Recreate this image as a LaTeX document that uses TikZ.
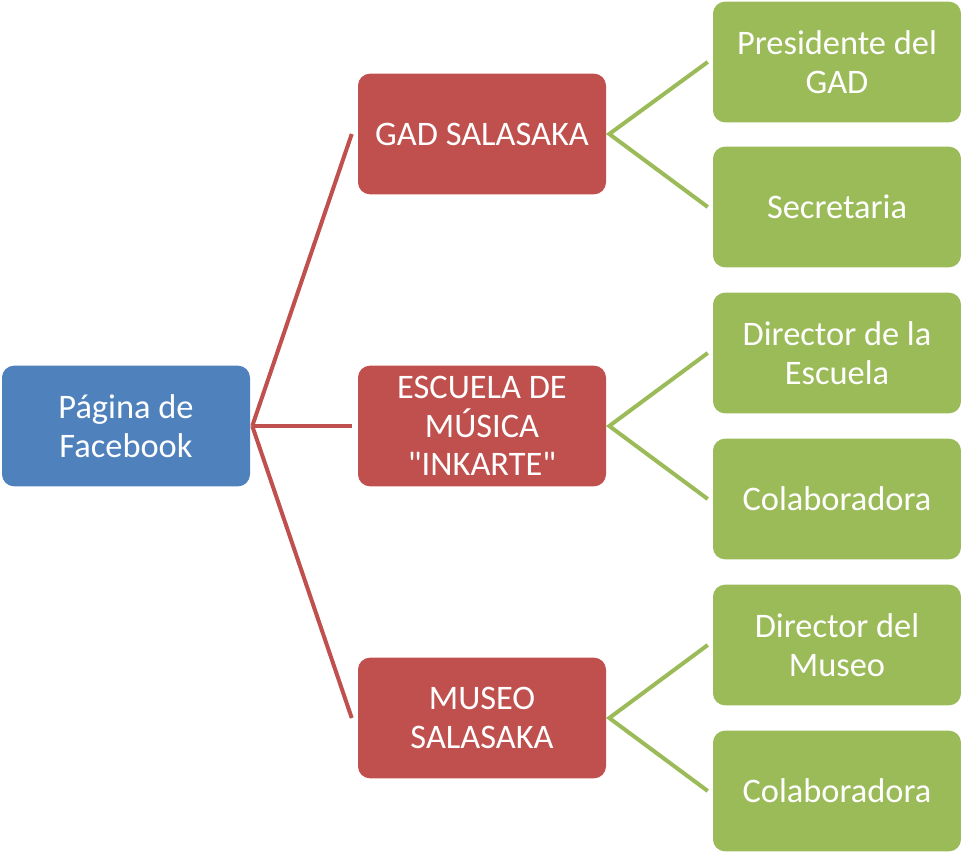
\documentclass[tikz,border=0pt]{standalone}
\usepackage{fontspec}
\setmainfont{Carlito}[Ligatures=TeXOff]
\usepackage{xcolor}
\usetikzlibrary{calc, positioning}
\definecolor{rootblue}{HTML}{4F81BD}
\definecolor{midred}{HTML}{C0504D}
\definecolor{leafgreen}{HTML}{9BBB59}
\begin{document}
\begin{tikzpicture}[x=0.75pt,y=-0.75pt,
  box/.style={rounded corners=9pt,minimum width=186pt,minimum height=90.5pt,
    inner sep=2pt,align=center,text=white,font=\fontsize{25.8}{29}\selectfont},
  rootbox/.style={box,fill=rootblue},
  midbox/.style={box,fill=midred},
  leafbox/.style={box,fill=leafgreen},
  redline/.style={midred,line width=3pt},
  greenline/.style={leafgreen,line width=3pt}]
\useasboundingbox (0,0) rectangle (961,853);
\node[rootbox] (pagina) at (126,426) {Página de\\Facebook};
\node[midbox] (gad) at (482,134) {GAD SALASAKA};
\node[midbox] (escuela) at (482,426) {ESCUELA DE\\MÚSICA\\"INKARTE"};
\node[midbox] (museo) at (482,718) {MUSEO\\SALASAKA};
\node[leafbox] (presidente) at (837,62) {Presidente del\\GAD};
\node[leafbox] (secretaria) at (837,207) {Secretaria};
\node[leafbox] (director) at (837,353) {Director de la\\Escuela};
\node[leafbox] (colab1) at (837,499) {Colaboradora};
\node[leafbox] (dirmuseo) at (837,645) {Director del\\Museo};
\node[leafbox] (colab2) at (837,791) {Colaboradora};
\foreach \c in {gad,escuela,museo}{
  \draw[redline] ($(pagina.east)+(2,0)$) -- ($(\c.west)+(-6,0)$);
}
\foreach \p/\a/\b in {gad/presidente/secretaria,escuela/director/colab1,museo/dirmuseo/colab2}{
  \draw[greenline] ($(\a.west)+(-5,0)$) -- ($(\p.east)+(3,0)$) -- ($(\b.west)+(-5,0)$);
}
\end{tikzpicture}
\end{document}
